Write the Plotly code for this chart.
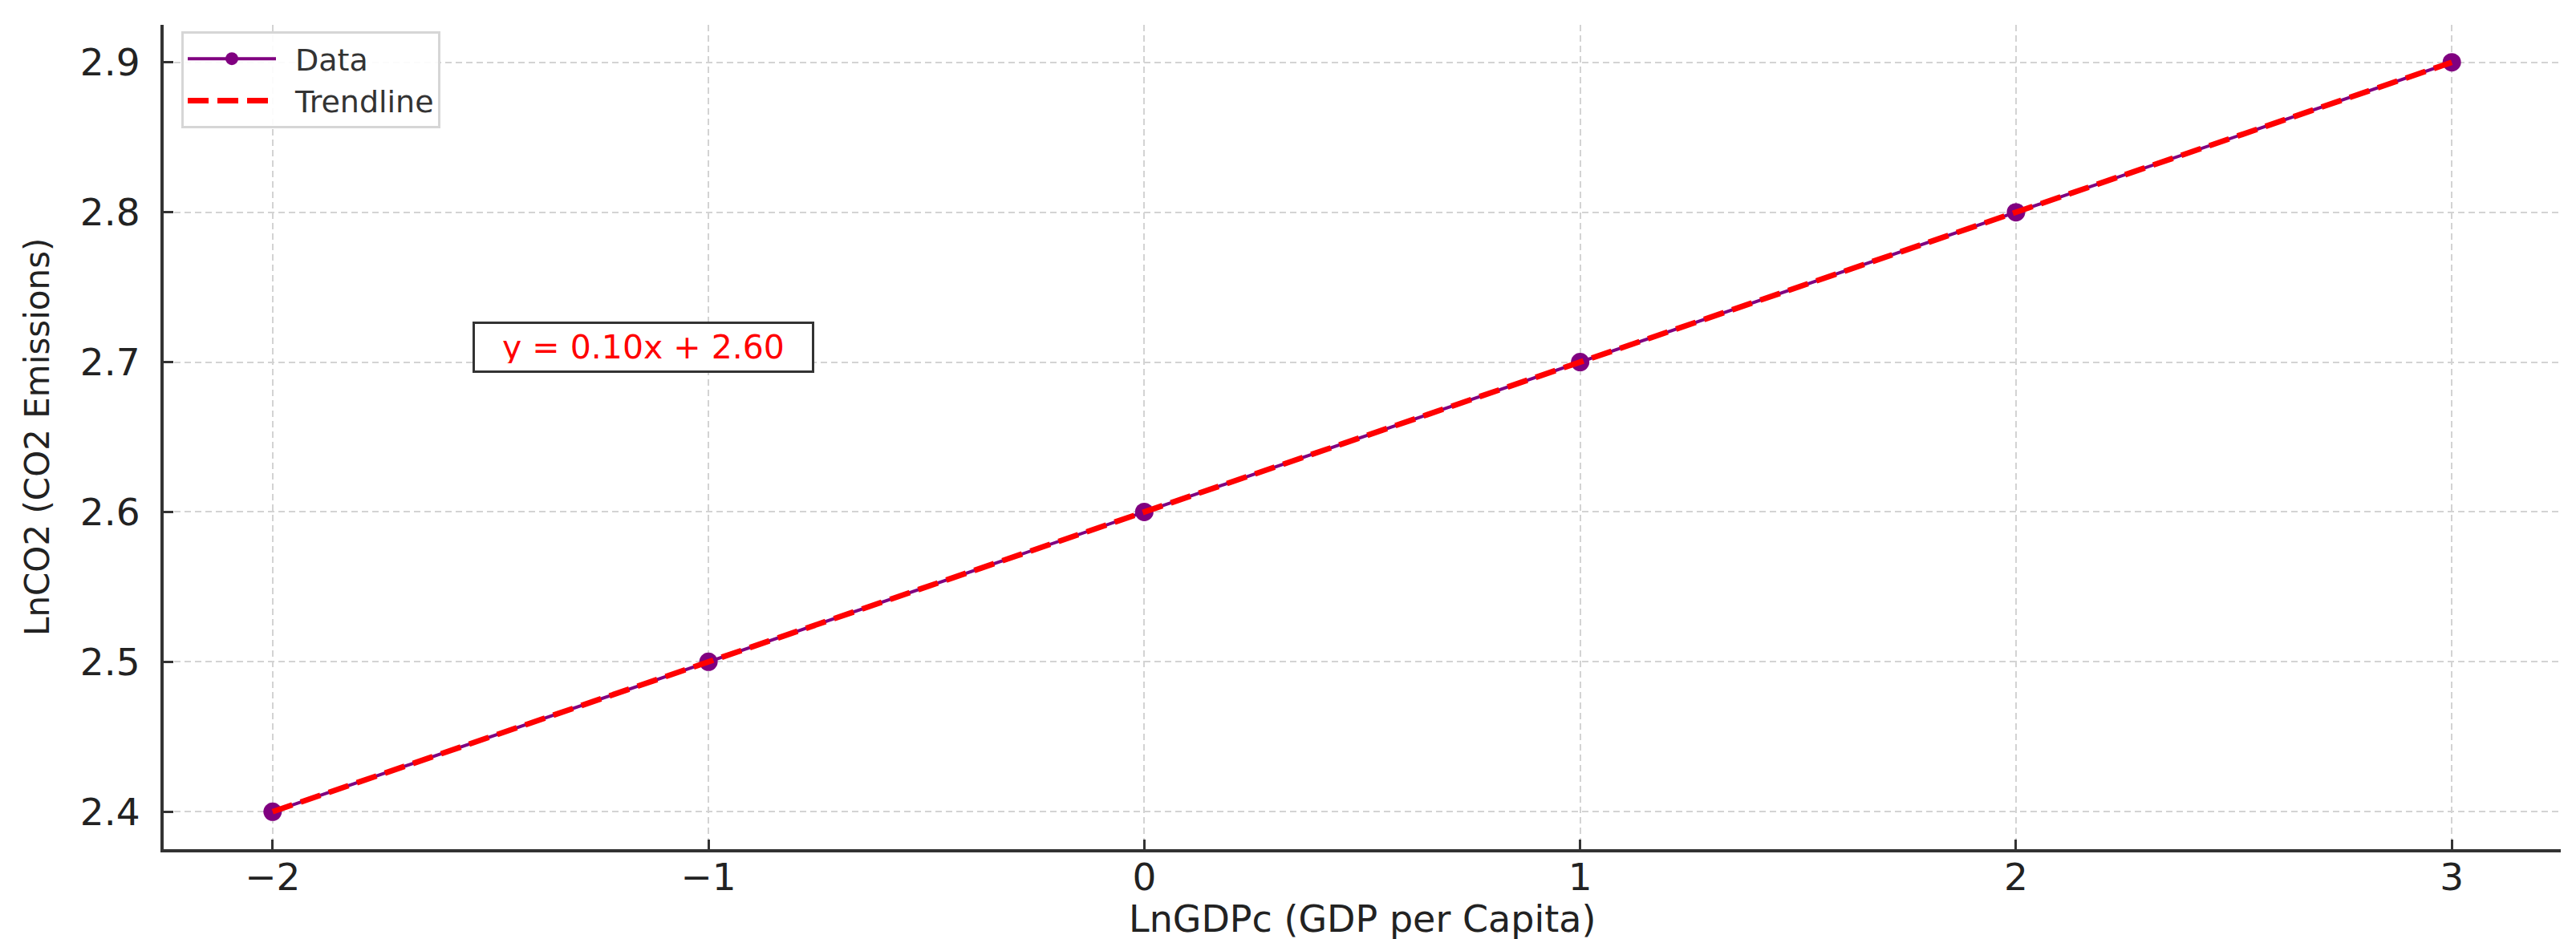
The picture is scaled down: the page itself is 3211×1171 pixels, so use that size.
import plotly.graph_objects as go

x_vals = [-2, -1, 0, 1, 2, 3]
y_vals = [2.4, 2.5, 2.6, 2.7, 2.8, 2.9]
slope = 0.10
intercept = 2.60
trend_vals = [slope * v + intercept for v in x_vals]
x_ticks = [-2, -1, 0, 1, 2, 3]
y_ticks = [2.4, 2.5, 2.6, 2.7, 2.8, 2.9]
eq_text = "y = 0.10x + 2.60"
x_title = "LnGDPc (GDP per Capita)"
y_title = "LnCO2 (CO2 Emissions)"

W, H = 3211, 1171
FONT = "DejaVu Sans"
ML, MR, MT, MB = 196, 27, 23, 120
PW, PH = W - ML - MR, H - MT - MB

fig = go.Figure()
fig.add_trace(go.Scatter(
    x=x_vals, y=y_vals, mode="lines+markers", name="\u2002Data",
    line=dict(color="#800080", width=4),
    marker=dict(color="#800080", size=23),
))
fig.add_trace(go.Scatter(
    x=x_vals, y=trend_vals, mode="lines", name="\u2002Trendline",
    line=dict(color="#ff0000", width=7, dash="26px,11px"),
))

fig.add_annotation(
    x=-1.5, y=2.7, xref="x", yref="y", text=eq_text, showarrow=False,
    xanchor="left", yanchor="middle", xshift=-22, yshift=19,
    width=402, height=40, align="center",
    font=dict(family=FONT, size=41, color="#ff0000"),
    bordercolor="#333333", borderwidth=3, borderpad=9, bgcolor="white",
)

# axis titles as annotations for exact placement
fig.add_annotation(
    x=0.5, y=-(1138 - (H - MB)) / PH,
    xref="paper", yref="paper", text=x_title, showarrow=False,
    xanchor="center", yanchor="middle",
    font=dict(family=FONT, size=46, color="#222222"),
)
fig.add_annotation(
    x=-(ML - 38) / PW, y=0.5, xref="paper", yref="paper", text=y_title,
    showarrow=False, textangle=-90, xanchor="center", yanchor="middle",
    font=dict(family=FONT, size=42, color="#222222"),
)

axis_common = dict(
    showgrid=True, gridcolor="#d3d3d3", gridwidth=2, griddash="8px,5px",
    zeroline=False, showline=True, linecolor="#333333", linewidth=4,
    ticks="inside", ticklen=12, tickwidth=3, tickcolor="#333333",
    tickfont=dict(family=FONT, size=47, color="#222222"),
    mirror=False,
)

fig.update_xaxes(range=[-2.25, 3.25], tickvals=x_ticks, ticklabelstandoff=-9, **axis_common)
fig.update_yaxes(range=[2.375, 2.925], tickvals=y_ticks, tickformat=".1f",
                 ticklabelstandoff=16, **axis_common)

fig.update_layout(
    width=W, height=H,
    margin=dict(l=ML, r=MR, t=MT, b=MB),
    paper_bgcolor="white", plot_bgcolor="white",
    font=dict(family=FONT),
    showlegend=True,
    legend=dict(
        x=22 / PW, y=1 - 8 / PH, xanchor="left", yanchor="top",
        bgcolor="rgba(255,255,255,0.9)", bordercolor="#d6d6d6", borderwidth=3,
        font=dict(family=FONT, size=38, color="#333333"),
        itemwidth=110, tracegroupgap=4,
    ),
)

fig.write_html("out.html")
